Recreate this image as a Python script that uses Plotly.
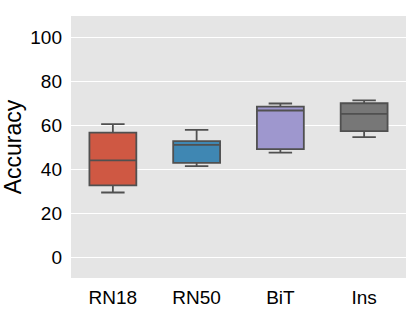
import plotly.graph_objects as go

models = ["RN18", "RN50", "BiT", "Ins"]
lower = [29.5, 41.5, 47.6, 54.7]
q1 = [32.7, 43.0, 49.2, 57.4]
median = [44.1, 51.2, 66.8, 65.3]
q3 = [56.7, 52.9, 68.6, 70.1]
upper = [60.6, 58.0, 70.0, 71.4]
colors = ["#CF5843", "#3F87B3", "#9E97CE", "#777777"]
yticks = [0, 20, 40, 60, 80, 100]

fig = go.Figure()
for i, m in enumerate(models):
    fig.add_trace(go.Box(
        x=[m], q1=[q1[i]], median=[median[i]], q3=[q3[i]],
        lowerfence=[lower[i]], upperfence=[upper[i]],
        fillcolor=colors[i], line=dict(color="#505050", width=1.8),
        whiskerwidth=0.5, boxpoints=False, showlegend=False, name=m,
    ))

fig.update_layout(
    width=415, height=311,
    margin=dict(l=71, r=9, t=16, b=33, autoexpand=False),
    paper_bgcolor="white", plot_bgcolor="#E5E5E5",
    boxgap=0.2,
    font=dict(family="Liberation Sans, Arial, sans-serif", color="black", size=19),
    xaxis=dict(showgrid=False, zeroline=False, ticks="", tickfont=dict(size=19),
               ticklabelstandoff=6, automargin=False),
    yaxis=dict(range=[-9.4, 109.8], tickvals=yticks, showgrid=True, gridcolor="white",
               gridwidth=1, zeroline=False, ticks="", tickfont=dict(size=19),
               ticklabelstandoff=8, automargin=False,
               title=dict(text="Accuracy", font=dict(size=23), standoff=7)),
)

fig.write_html("out.html", config={"displayModeBar": False},
               post_script="document.body.style.margin='0';document.body.style.overflow='hidden';")
